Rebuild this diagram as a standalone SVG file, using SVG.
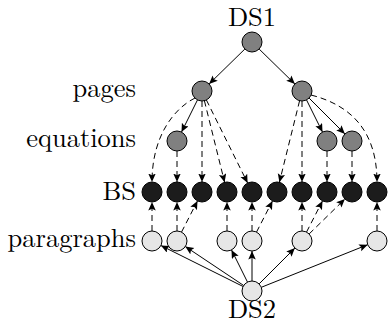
<svg xmlns="http://www.w3.org/2000/svg" width="389" height="331" viewBox="0 0 389 331">
  <style>
    text { font-family: "Latin Modern Roman", "CMU Serif", "Liberation Serif", "Times New Roman", Times, Tinos, "Nimbus Roman", "Noto Serif", "DejaVu Serif", FreeSerif, serif; font-size: 26.5px; fill: #000; }
    .row { text-anchor: end; }
    .mid { text-anchor: middle; }
    circle { stroke: #000; stroke-width: 1; }
    .mid-gray { fill: #808080; }
    .dark { fill: #1c1c1c; }
    .light { fill: #e6e6e6; }
    .edge { fill: none; stroke: #000; stroke-width: 1; marker-end: url(#tip); }
    .dash { stroke-dasharray: 6 4; }
  </style>
  <defs>
    <marker id="tip" markerUnits="userSpaceOnUse" markerWidth="10" markerHeight="9" refX="8.5" refY="3.75" orient="auto">
      <path d="M0,0 L8.5,3.75 L0,7.5 L1.7,3.75 z" fill="#000" stroke="none"/>
    </marker>
  </defs>

  <!-- row labels -->
  <g id="labels">
    <text class="row" x="136" y="97">pages</text>
    <text class="row" x="136" y="147">equations</text>
    <text class="row" x="136" y="200">BS</text>
    <text class="row" x="136" y="247">paragraphs</text>
  </g>

  <!-- connectors -->
  <g id="connectors">
    <!-- DS1 to pages -->
    <path class="edge" d="M244.9,49 L209.1,84"/>
    <path class="edge" d="M259.1,49 L294.9,84"/>
    <!-- pages to equations -->
    <path class="edge" d="M197.5,99.9 L181.5,132.1"/>
    <path class="edge" d="M306.5,99.9 L322.5,132.1"/>
    <path class="edge" d="M309.1,98.1 L344.9,133.9"/>
    <!-- pages / equations to BS -->
    <path class="edge dash" d="M195,98 C175,108 152,135 152,182"/>
    <path class="edge dash" d="M202,101 L202,182"/>
    <path class="edge dash" d="M204.4,100.7 L224.6,182.3"/>
    <path class="edge dash" d="M206.4,100 L247.6,183"/>
    <path class="edge dash" d="M177,151 L177,182"/>
    <path class="edge dash" d="M299.6,100.7 L279.4,182.3"/>
    <path class="edge dash" d="M302,101 L302,182"/>
    <path class="edge dash" d="M311,95 C350,105 377,130 377,182"/>
    <path class="edge dash" d="M327,151 L327,182"/>
    <path class="edge dash" d="M352,151 L352,182"/>
    <!-- paragraphs to BS -->
    <path class="edge dash" d="M152,231 L152,202"/>
    <path class="edge dash" d="M177,231 L177,202"/>
    <path class="edge dash" d="M181.5,232.1 L197.5,200.9"/>
    <path class="edge dash" d="M227,231 L227,202"/>
    <path class="edge dash" d="M252,231 L252,202"/>
    <path class="edge dash" d="M256.5,232.1 L272.5,200.9"/>
    <path class="edge dash" d="M302,231 L302,202"/>
    <path class="edge dash" d="M306.5,232.1 L322.5,200.9"/>
    <path class="edge dash" d="M309.1,234 L344.9,199"/>
    <path class="edge dash" d="M377,231 L377,202"/>
    <!-- DS2 to paragraphs -->
    <path class="edge" d="M243.1,286.5 L160.9,245.5"/>
    <path class="edge" d="M243.7,285.5 L185.3,246.5"/>
    <path class="edge" d="M247.5,282.1 L231.5,249.9"/>
    <path class="edge" d="M252,281 L252,251"/>
    <path class="edge" d="M259.1,283.9 L294.9,248.1"/>
    <path class="edge" d="M261.3,287.3 L367.7,244.7"/>
  </g>

  <!-- sources -->
  <g id="ds1">
    <circle class="mid-gray" cx="252" cy="42" r="10"/>
    <text class="mid" x="252" y="26">DS1</text>
  </g>
  <g id="ds2">
    <circle class="light" cx="252" cy="291" r="10"/>
    <text class="mid" x="252" y="318">DS2</text>
  </g>

  <!-- pages -->
  <g id="page-1"><circle class="mid-gray" cx="202" cy="91" r="10"/></g>
  <g id="page-2"><circle class="mid-gray" cx="302" cy="91" r="10"/></g>

  <!-- equations -->
  <g id="eq-1"><circle class="mid-gray" cx="177" cy="141" r="10"/></g>
  <g id="eq-2"><circle class="mid-gray" cx="327" cy="141" r="10"/></g>
  <g id="eq-3"><circle class="mid-gray" cx="352" cy="141" r="10"/></g>

  <!-- BS -->
  <g id="bs-1"><circle class="dark" cx="152" cy="192" r="10"/></g>
  <g id="bs-2"><circle class="dark" cx="177" cy="192" r="10"/></g>
  <g id="bs-3"><circle class="dark" cx="202" cy="192" r="10"/></g>
  <g id="bs-4"><circle class="dark" cx="227" cy="192" r="10"/></g>
  <g id="bs-5"><circle class="dark" cx="252" cy="192" r="10"/></g>
  <g id="bs-6"><circle class="dark" cx="277" cy="192" r="10"/></g>
  <g id="bs-7"><circle class="dark" cx="302" cy="192" r="10"/></g>
  <g id="bs-8"><circle class="dark" cx="327" cy="192" r="10"/></g>
  <g id="bs-9"><circle class="dark" cx="352" cy="192" r="10"/></g>
  <g id="bs-10"><circle class="dark" cx="377" cy="192" r="10"/></g>

  <!-- paragraphs -->
  <g id="para-1"><circle class="light" cx="152" cy="241" r="10"/></g>
  <g id="para-2"><circle class="light" cx="177" cy="241" r="10"/></g>
  <g id="para-3"><circle class="light" cx="227" cy="241" r="10"/></g>
  <g id="para-4"><circle class="light" cx="252" cy="241" r="10"/></g>
  <g id="para-5"><circle class="light" cx="302" cy="241" r="10"/></g>
  <g id="para-6"><circle class="light" cx="377" cy="241" r="10"/></g>
</svg>
